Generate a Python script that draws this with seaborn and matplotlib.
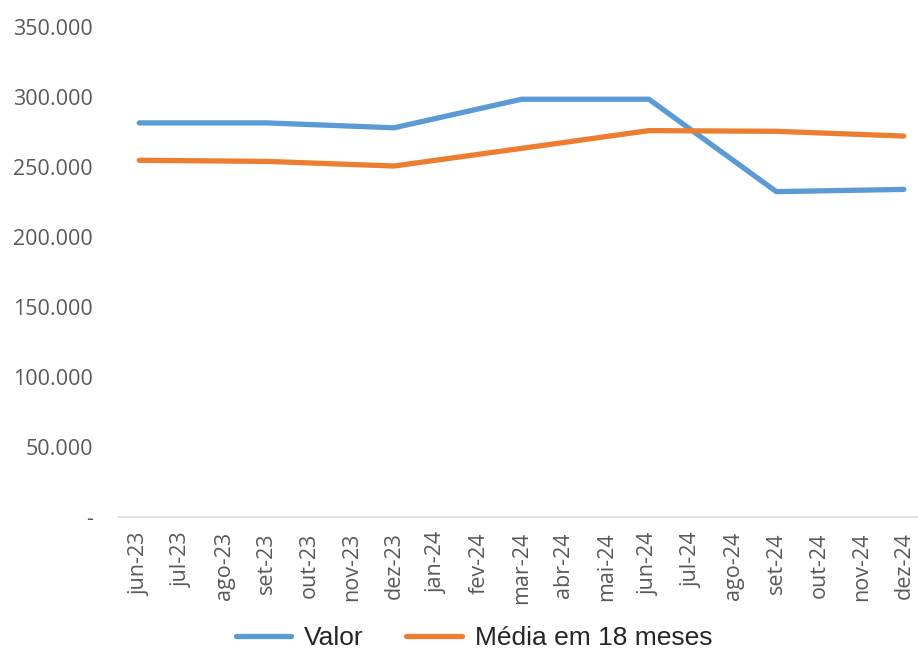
import numpy as np
import pandas as pd
import matplotlib.pyplot as plt
import seaborn as sns

# valores (trimestrais, os outros meses ficam vazios)
meses = ['jun-23', 'jul-23', 'ago-23', 'set-23', 'out-23', 'nov-23', 'dez-23',
         'jan-24', 'fev-24', 'mar-24', 'abr-24', 'mai-24', 'jun-24', 'jul-24',
         'ago-24', 'set-24', 'out-24', 'nov-24', 'dez-24']
nan = np.nan
valor = [281500, nan, nan, 281500, nan, nan, 278000, nan, nan, 298400,
         nan, nan, 298400, nan, nan, 232400, nan, nan, 234000]
media = [254800, nan, nan, 254000, nan, nan, 250700, nan, nan, 263300,
         nan, nan, 276000, nan, nan, 275500, nan, nan, 272100]
y_ticks = [0, 50000, 100000, 150000, 200000, 250000, 300000, 350000]
y_labels = ['-', '50.000', '100.000', '150.000', '200.000', '250.000', '300.000', '350.000']

series = ['Valor', 'Média em 18 meses']
cores = {'Valor': '#5B9BD5', 'Média em 18 meses': '#ED7D31'}

df = pd.DataFrame({'pos': range(len(meses)), 'Valor': valor, 'Média em 18 meses': media})
df = df.melt(id_vars='pos', value_vars=series, var_name='serie', value_name='v')

sns.set_style('white')
plt.rcParams['font.family'] = ['Open Sans', 'DejaVu Sans']

fig = plt.figure(figsize=(9.18, 6.54), dpi=100)
ax = fig.add_axes([118 / 918, 1 - 517 / 654, 807 / 918, (517 - 27) / 654])

sns.lineplot(data=df, x='pos', y='v', hue='serie', hue_order=series,
             palette=cores, linewidth=3.8, ax=ax, legend=True)

ax.set_xlim(-0.5, len(meses) - 0.5)
ax.set_ylim(0, 350000)
ax.set_xlabel('')
ax.set_ylabel('')

ax.set_xticks(range(len(meses)))
ax.set_xticklabels(meses, rotation=90)
ax.set_xticks(np.arange(-0.5, len(meses)), minor=True)
ax.set_yticks(y_ticks)
ax.set_yticklabels(y_labels)

ax.tick_params(axis='x', which='major', length=0, pad=11, labelsize=15.5, labelcolor='#595959')
ax.tick_params(axis='x', which='minor', length=5.5, width=1.1, color='#D9D9D9', direction='out')
ax.tick_params(axis='y', length=0, pad=18, labelsize=15.5, labelcolor='#595959')

for lado in ['top', 'right', 'left']:
    ax.spines[lado].set_visible(False)
ax.spines['bottom'].set_color('#D9D9D9')
ax.spines['bottom'].set_linewidth(1.1)

handles, labels = ax.get_legend_handles_labels()
ax.get_legend().remove()
fig.legend(handles, labels, loc='center', bbox_to_anchor=(474 / 918, 1 - 638 / 654),
           ncol=2, frameon=False, handlelength=2.1, handletextpad=0.5,
           columnspacing=1.6, borderpad=0,
           prop={'family': 'Liberation Sans', 'size': 19}, labelcolor='#262626')

fig.savefig('out.png', dpi=100)
